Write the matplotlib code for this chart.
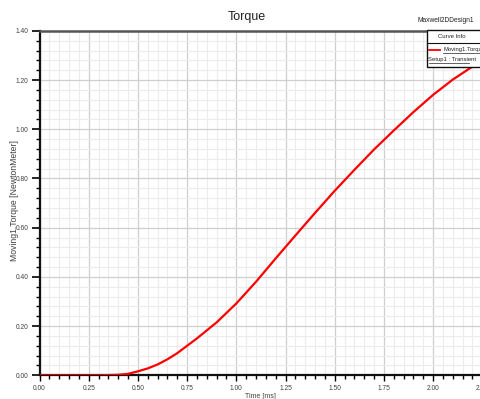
import numpy as np
import matplotlib.pyplot as plt
from matplotlib.ticker import MultipleLocator
from matplotlib.patches import Rectangle
from matplotlib.lines import Line2D

# curve values
time_ms = [0.0, 0.1, 0.2, 0.3, 0.4, 0.45, 0.5, 0.55, 0.6, 0.65, 0.7, 0.75, 0.8,
           0.9, 1.0, 1.1, 1.2, 1.3, 1.4, 1.5, 1.6, 1.7, 1.8, 1.9, 2.0,
           2.1, 2.2, 2.25]
torque = [0.0, 0.0, 0.0, 0.0, 0.002, 0.006, 0.016, 0.028, 0.044, 0.065, 0.09,
          0.12, 0.15, 0.215, 0.292, 0.38, 0.475, 0.568, 0.66, 0.75, 0.835,
          0.918, 0.995, 1.07, 1.14, 1.202, 1.255, 1.278]

title = 'Torque'
design = 'Maxwell2DDesign1'
curve_name = 'Moving1.Torque'
setup_name = 'Setup1 : Transient'
x_label = 'Time [ms]'
y_label = 'Moving1.Torque [NewtonMeter]'

plt.rcParams['font.family'] = ['Liberation Sans', 'DejaVu Sans']
txt = '#404040'
W, H = 480.0, 399.0

fig = plt.figure(figsize=(4.8, 3.99), dpi=100)
ax = fig.add_axes([0.0823, 0.0594, 0.9225, 0.8632])

ax.plot(time_ms, torque, color='#ff0000', lw=1.6, zorder=3)

ax.set_xlim(0, 2.25)
ax.set_ylim(0, 1.4)
ax.xaxis.set_major_locator(MultipleLocator(0.25))
ax.xaxis.set_minor_locator(MultipleLocator(0.05))
ax.yaxis.set_major_locator(MultipleLocator(0.2))
ax.yaxis.set_minor_locator(MultipleLocator(0.04))
ax.xaxis.set_major_formatter(lambda v, p: '%.2f' % v)
ax.yaxis.set_major_formatter(lambda v, p: '%.2f' % v)

ax.grid(which='major', color='#cfcfcf', lw=0.9)
ax.grid(which='minor', color='#ececec', lw=0.8)
ax.set_axisbelow(True)

ax.tick_params(which='major', axis='y', length=6, width=1.2, labelsize=4.8,
               labelcolor=txt, pad=2)
ax.tick_params(which='major', axis='x', length=4, width=1.0, labelsize=4.8,
               labelcolor=txt, pad=3)
ax.tick_params(which='minor', length=3, width=1.0)

for s in ['left', 'bottom']:
    ax.spines[s].set_linewidth(1.6)
    ax.spines[s].set_color('#111111')
ax.spines['top'].set_linewidth(1.8)
ax.spines['top'].set_color('#555555')
ax.spines['right'].set_visible(False)

ax.set_xlabel(x_label, fontsize=5, color=txt, labelpad=1)
fig.text(15 / W, 1 - 201 / H, y_label, fontsize=6.2, rotation=90, ha='center',
         va='center', color=txt)

fig.text(247 / W, 1 - 17 / H, title, fontsize=9, ha='center', va='center',
         color='#222222')
fig.text(446 / W, 1 - 20 / H, design, fontsize=4.8, ha='center', va='center',
         color='#222222')

# legend box ("Curve Info")
fig.patches.append(Rectangle((427 / W, 1 - 66.5 / H), 60 / W, 36.5 / H,
                             transform=fig.transFigure, facecolor='white',
                             edgecolor='#111111', lw=1.0, zorder=5))
fig.lines.append(Line2D([427 / W, 1], [1 - 43 / H] * 2, transform=fig.transFigure,
                        color='#111111', lw=0.8, zorder=6))
fig.text(452 / W, 1 - 36.5 / H, 'Curve Info', fontsize=4.3, ha='center', va='center',
         color='#222222', zorder=7)
fig.lines.append(Line2D([429 / W, 440 / W], [1 - 50 / H] * 2, transform=fig.transFigure,
                        color='#ff0000', lw=1.3, zorder=6))
fig.text(443 / W, 1 - 50 / H, curve_name, fontsize=4.2, ha='left', va='center',
         color='#222222', zorder=7)
fig.lines.append(Line2D([443 / W, 1], [1 - 53 / H] * 2, transform=fig.transFigure,
                        color='#222222', lw=0.5, zorder=6))
fig.text(428.5 / W, 1 - 60 / H, setup_name, fontsize=4.2, ha='left', va='center',
         color='#222222', zorder=7)
fig.lines.append(Line2D([428.5 / W, 469 / W], [1 - 63 / H] * 2,
                        transform=fig.transFigure, color='#222222', lw=0.5, zorder=6))

fig.savefig('out.png', dpi=100)
